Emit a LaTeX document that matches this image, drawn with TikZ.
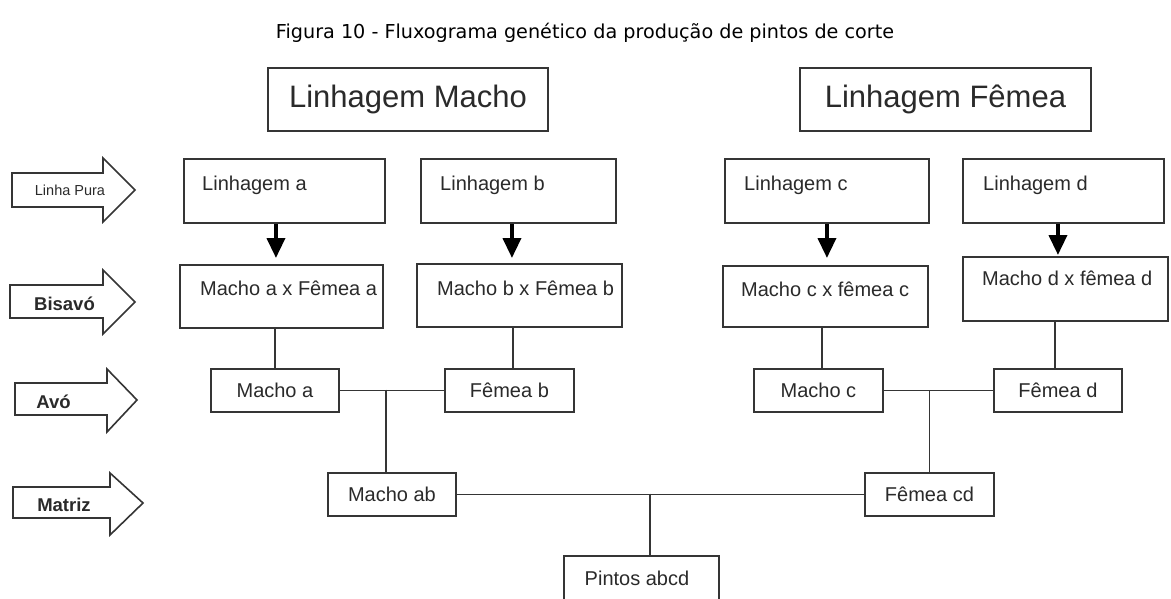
\documentclass[tikz,border=0pt]{standalone}
\usepackage{fontspec}
\setmainfont{Liberation Sans}
\newfontfamily\titlefont{DejaVu Sans}
\usetikzlibrary{arrows.meta}
\definecolor{boxc}{HTML}{353535}
\definecolor{txtc}{HTML}{2A2A2A}
\begin{document}
\begin{tikzpicture}[x=1pt,y=-1pt,
  box/.style={draw=boxc, line width=1.9pt, inner sep=0pt, anchor=north west},
  txt/.style={text=txtc, inner sep=0pt, font=\fontsize{20}{22}\selectfont},
  ltxt/.style={txt, anchor=base west},
  big/.style={text=txtc, inner sep=0pt, font=\fontsize{31}{34}\selectfont},
  conn/.style={draw=boxc, line width=1.9pt},
  dnarrow/.style={draw=black, line width=3.8pt, -{Triangle[width=18pt,length=20pt]}},
  blockarrow/.style={draw=boxc, line width=1.6pt, fill=white, line join=miter},
  lvl/.style={text=txtc, inner sep=0pt, font=\bfseries\fontsize{18.5}{20}\selectfont},
]
\useasboundingbox (0,0) rectangle (1171,599);
\clip (0,0) rectangle (1171,599);
\fill[white] (0,0) rectangle (1171,599);

% title
\node[text=black, inner sep=0pt, font=\titlefont\fontsize{19.2}{22}\selectfont] (title) at (585,33)
  {Figura 10 - Fluxograma genético da produção de pintos de corte};

% header boxes
\node[box, minimum width=280, minimum height=63] (hM) at (267,67) {};
\node[big] (hMt) at (hM.center) {Linhagem Macho};
\node[box, minimum width=291, minimum height=63] (hF) at (799,67) {};
\node[big] (hFt) at (hF.center) {Linhagem Fêmea};

% level arrows
\draw[blockarrow] (12,173) -- (103,173) -- (103,158) -- (135,190) -- (103,222) -- (103,207) -- (12,207) -- cycle;
\node[text=txtc, inner sep=0pt, font=\fontsize{14.5}{16}\selectfont] (aLP) at (70,190) {Linha Pura};
\draw[blockarrow] (10,285) -- (103,285) -- (103,270) -- (135,302) -- (103,334) -- (103,318) -- (10,318) -- cycle;
\node[lvl] (aBi) at (64.5,304) {Bisavó};
\draw[blockarrow] (15,383) -- (107,383) -- (107,369) -- (137,400) -- (107,432) -- (107,415) -- (15,415) -- cycle;
\node[lvl] (aAv) at (53.5,402) {Avó};
\draw[blockarrow] (13,487) -- (110,487) -- (110,473) -- (143,503) -- (110,535) -- (110,518) -- (13,518) -- cycle;
\node[lvl] (aMa) at (64,505) {Matriz};

% Linhagem boxes
\node[box, minimum width=201, minimum height=64] (lA) at (183,158) {};
\node[ltxt] (lAt) at (202,190) {Linhagem a};
\node[box, minimum width=195, minimum height=64] (lB) at (420,158) {};
\node[ltxt] (lBt) at (440,190) {Linhagem b};
\node[box, minimum width=204, minimum height=64] (lC) at (724,158) {};
\node[ltxt] (lCt) at (744,190) {Linhagem c};
\node[box, minimum width=201, minimum height=64] (lD) at (962,158) {};
\node[ltxt] (lDt) at (983,190) {Linhagem d};

% Bisavo boxes
\node[box, minimum width=203, minimum height=63] (bA) at (179,264) {};
\node[ltxt] (bAt) at (200,295) {Macho a x Fêmea a};
\node[box, minimum width=205, minimum height=63] (bB) at (416,263) {};
\node[ltxt] (bBt) at (437,295) {Macho b x Fêmea b};
\node[box, minimum width=205, minimum height=61] (bC) at (722,265) {};
\node[ltxt] (bCt) at (741,296) {Macho c x fêmea c};
\node[box, minimum width=205, minimum height=64] (bD) at (962,256) {};
\node[ltxt] (bDt) at (982,285) {Macho d x fêmea d};

% down arrows
\draw[dnarrow, shorten >=6pt] ([xshift=-8.5pt]lA.south) -- ([xshift=-8.5pt]lA.south |- bA.north);
\draw[dnarrow, shorten >=5pt] ([xshift=-6.5pt]lB.south) -- ([xshift=-6.5pt]lB.south |- bB.north);
\draw[dnarrow, shorten >=7pt] (lC.south) -- (lC.south |- bC.north);
\draw[dnarrow, shorten >=1pt] ([xshift=-5.5pt]lD.south) -- ([xshift=-5.5pt]lD.south |- bD.north);

% Avo boxes
\node[box, minimum width=128, minimum height=43] (mA) at (210,368) {};
\node[txt] (mAt) at (mA.center) {Macho a};
\node[box, minimum width=129, minimum height=43] (fB) at (444,368) {};
\node[txt] (fBt) at (fB.center) {Fêmea b};
\node[box, minimum width=129, minimum height=43] (mC) at (753,368) {};
\node[txt] (mCt) at (mC.center) {Macho c};
\node[box, minimum width=128, minimum height=43] (fD) at (993,368) {};
\node[txt] (fDt) at (fD.center) {Fêmea d};

% Matriz boxes
\node[box, minimum width=128, minimum height=43] (mAB) at (327,472) {};
\node[txt] (mABt) at (mAB.center) {Macho ab};
\node[box, minimum width=129, minimum height=43] (fCD) at (864,472) {};
\node[txt] (fCDt) at (fCD.center) {Fêmea cd};

% Pintos
\node[box, minimum width=155, minimum height=60] (pin) at (563,555) {};
\node[txt, anchor=base] (pint) at (637,585) {Pintos abcd};

% connectors
\draw[conn] (bA.south -| mA.north) -- (mA.north);
\draw[conn] ([xshift=3.5pt]fB.north |- bB.south) -- ([xshift=3.5pt]fB.north);
\draw[conn] ([xshift=3.5pt]mC.north |- bC.south) -- ([xshift=3.5pt]mC.north);
\draw[conn] ([xshift=-3pt]fD.north |- bD.south) -- ([xshift=-3pt]fD.north);

\draw[conn] (mA.east) -- (fB.west);
\coordinate (jab) at (386,389.5);
\draw[conn] (jab) -- (jab |- mAB.north);
\draw[conn] (mC.east) -- (fD.west);
\draw[conn] (fCD.north |- mC.east) -- (fCD.north);

\draw[conn] (mAB.east) -- (fCD.west);
\coordinate (jp) at (650,493.5);
\draw[conn] (jp) -- (jp |- pin.north);
\end{tikzpicture}
\end{document}
